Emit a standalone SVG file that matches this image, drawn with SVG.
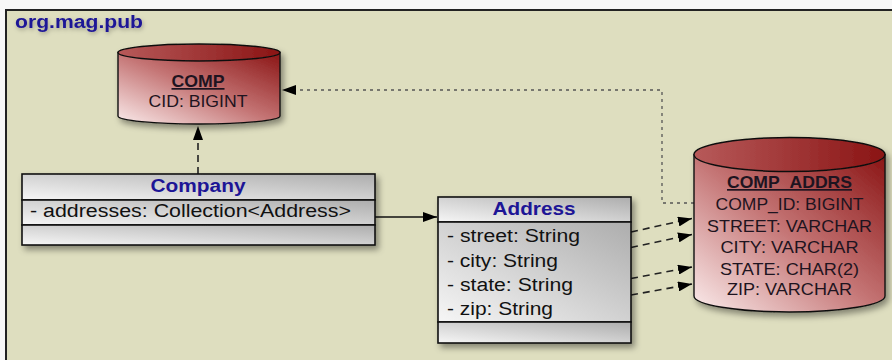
<svg xmlns="http://www.w3.org/2000/svg" width="892" height="360" viewBox="0 0 892 360">
<style>
text{font-family:"Liberation Sans",Arial,sans-serif;}
.title{font-size:18px;font-weight:bold;fill:#1d1596;}
.attr{font-size:18px;fill:#111;}
.tbl{font-size:17px;fill:#1e1420;}
.tblh{font-size:17px;font-weight:bold;fill:#1e1420;text-decoration:underline;}
.box{stroke:#111;stroke-width:1.6;fill:url(#gbox);}
.cyl{stroke:#111;stroke-width:1.4;fill:url(#gcyl);}
.cyltop{stroke:#111;stroke-width:1.4;fill:url(#gcyltop);}
.dash{stroke:#222;stroke-width:1.6;fill:none;stroke-dasharray:7 5;}
.solid{stroke:#111;stroke-width:1.4;fill:none;}
.dot{stroke:#555;stroke-width:1.3;fill:none;stroke-dasharray:3 4;}
</style>
<defs>
<linearGradient id="gbox" x1="0" y1="1" x2="1" y2="0">
<stop offset="0" stop-color="#f6f6f6"/>
<stop offset="1" stop-color="#adadad"/>
</linearGradient>
<linearGradient id="gcyl" x1="0" y1="1" x2="1" y2="0">
<stop offset="0" stop-color="#fbecec"/>
<stop offset="0.5" stop-color="#c47474"/>
<stop offset="1" stop-color="#8a1414"/>
</linearGradient>
<linearGradient id="gcyltop" x1="0" y1="0.5" x2="1" y2="0.5">
<stop offset="0" stop-color="#b75a5a"/>
<stop offset="1" stop-color="#8a1414"/>
</linearGradient>
<filter id="sh" x="-10%" y="-10%" width="125%" height="135%">
<feDropShadow dx="3" dy="4" stdDeviation="3" flood-color="#000" flood-opacity="0.4"/>
</filter>
<filter id="glow" x="-10%" y="-30%" width="120%" height="170%">
<feDropShadow dx="1" dy="2" stdDeviation="2" flood-color="#000" flood-opacity="0.3"/>
</filter>
<marker id="ah" viewBox="0 0 14 10" refX="14" refY="5" markerWidth="14" markerHeight="10" markerUnits="userSpaceOnUse" orient="auto">
<path d="M0,0 L14,5 L0,10 Z" fill="#000"/>
</marker>
</defs>
<rect x="0" y="0" width="892" height="360" fill="#f7f7f7"/>
<rect id="frame" x="6" y="10" width="900" height="360" fill="#dedebf" stroke="#222" stroke-width="2"/>
<text x="15" y="28" class="title" textLength="128" lengthAdjust="spacingAndGlyphs" filter="url(#glow)">org.mag.pub</text>

<g id="connectors">
<line class="dash" x1="198" y1="174" x2="198" y2="126" marker-end="url(#ah)"/>
<line class="solid" x1="375" y1="217" x2="437" y2="217" marker-end="url(#ah)"/>
<polyline class="dot" points="694,203 662,203 662,90 282,90" marker-end="url(#ah)"/>
<line class="dash" x1="631" y1="232" x2="692" y2="218.5" marker-end="url(#ah)"/>
<line class="dash" x1="631" y1="247.5" x2="692" y2="234.5" marker-end="url(#ah)"/>
<line class="dash" x1="631" y1="278.5" x2="692" y2="267" marker-end="url(#ah)"/>
<line class="dash" x1="631" y1="295" x2="692" y2="284" marker-end="url(#ah)"/>
</g>

<g id="COMP">
<g filter="url(#sh)">
<path class="cyl" d="M118,52.5 L118,116 A81,8 0 0 0 280,116 L280,52.5 Z"/>
<ellipse class="cyltop" cx="199" cy="52.5" rx="81" ry="8.5"/>
</g>
<text x="198" y="87" class="tblh" text-anchor="middle" textLength="53" lengthAdjust="spacingAndGlyphs">COMP</text>
<text x="198" y="107" class="tbl" text-anchor="middle" textLength="99" lengthAdjust="spacingAndGlyphs">CID: BIGINT</text>
</g>

<g id="COMP_ADDRS">
<g filter="url(#sh)">
<path class="cyl" d="M694,154.5 L694,296 A95.5,16 0 0 0 885,296 L885,154.5 Z"/>
<ellipse class="cyltop" cx="789.5" cy="154.5" rx="95.5" ry="17"/>
</g>
<text x="789.5" y="188" class="tblh" text-anchor="middle" textLength="125" lengthAdjust="spacingAndGlyphs">COMP_ADDRS</text>
<text x="789.5" y="210" class="tbl" text-anchor="middle" textLength="148" lengthAdjust="spacingAndGlyphs">COMP_ID: BIGINT</text>
<text x="789.5" y="232" class="tbl" text-anchor="middle" textLength="165" lengthAdjust="spacingAndGlyphs">STREET: VARCHAR</text>
<text x="789.5" y="253" class="tbl" text-anchor="middle" textLength="138" lengthAdjust="spacingAndGlyphs">CITY: VARCHAR</text>
<text x="789.5" y="275" class="tbl" text-anchor="middle" textLength="139" lengthAdjust="spacingAndGlyphs">STATE: CHAR(2)</text>
<text x="789.5" y="295" class="tbl" text-anchor="middle" textLength="125" lengthAdjust="spacingAndGlyphs">ZIP: VARCHAR</text>
</g>

<g id="Company">
<g filter="url(#sh)">
<rect class="box" x="22" y="174" width="353" height="26"/>
<rect class="box" x="22" y="200" width="353" height="25"/>
<rect class="box" x="22" y="225" width="353" height="20"/>
</g>
<text x="198" y="192" class="title" text-anchor="middle" textLength="95" lengthAdjust="spacingAndGlyphs">Company</text>
<text x="30" y="217" class="attr" textLength="321" lengthAdjust="spacingAndGlyphs">- addresses: Collection&lt;Address&gt;</text>
</g>

<g id="Address">
<g filter="url(#sh)">
<rect class="box" x="438" y="197" width="193" height="25"/>
<rect class="box" x="438" y="222" width="193" height="100"/>
<rect class="box" x="438" y="322" width="193" height="21"/>
</g>
<text x="534" y="215" class="title" text-anchor="middle" textLength="83" lengthAdjust="spacingAndGlyphs">Address</text>
<text x="447" y="242" class="attr" textLength="133" lengthAdjust="spacingAndGlyphs">- street: String</text>
<text x="447" y="267" class="attr" textLength="111" lengthAdjust="spacingAndGlyphs">- city: String</text>
<text x="447" y="291" class="attr" textLength="126" lengthAdjust="spacingAndGlyphs">- state: String</text>
<text x="447" y="315" class="attr" textLength="106" lengthAdjust="spacingAndGlyphs">- zip: String</text>
</g>
</svg>
